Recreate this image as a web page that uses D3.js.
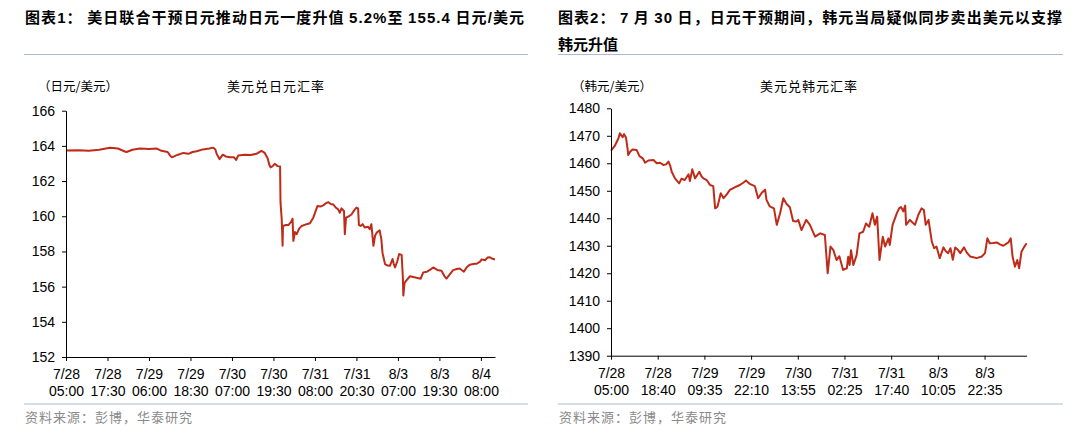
<!DOCTYPE html>
<html>
<head>
<meta charset="utf-8">
<script src="https://cdn.jsdelivr.net/npm/d3@7"></script>
<style>
  html, body { margin: 0; padding: 0; background: #fff; }
  svg { display: block; }
  .cjk { font-family: "Noto Sans CJK SC", sans-serif; }
  .tick text { font-family: "Liberation Sans", Arial, sans-serif; font-size: 14px; fill: #000; }
</style>
</head>
<body>
<div id="chart"></div>
<script>
/*****************************************************
 * 数据 (t = 以刻度间隔为单位的位置, v = 汇率)
 *****************************************************/
const jpyTickLabels = [
  ["7/28", "05:00"], ["7/28", "17:30"], ["7/29", "06:00"], ["7/29", "18:30"],
  ["7/30", "07:00"], ["7/30", "19:30"], ["7/31", "08:00"], ["7/31", "20:30"],
  ["8/3", "07:00"], ["8/3", "19:30"], ["8/4", "08:00"]
];
const jpyYTicks = [152, 154, 156, 158, 160, 162, 164, 166];

// 美元兑日元
const usdjpy = [
  [0,163.74],[0.3,163.75],[0.55,163.72],[0.8,163.78],[1.06,163.9],[1.25,163.85],[1.42,163.68],
  [1.46,163.65],[1.6,163.78],[1.78,163.85],[2.0,163.83],[2.19,163.85],[2.3,163.72],[2.45,163.65],
  [2.51,163.45],[2.55,163.35],[2.7,163.5],[2.83,163.6],[2.95,163.55],[3.05,163.65],[3.15,163.7],
  [3.3,163.8],[3.45,163.85],[3.55,163.9],[3.6,163.8],[3.63,163.55],[3.7,163.25],[3.78,163.5],
  [3.85,163.4],[3.95,163.35],[4.05,163.35],[4.1,163.2],[4.15,163.45],[4.3,163.5],[4.45,163.48],
  [4.59,163.55],[4.71,163.72],[4.79,163.6],[4.86,163.3],[4.9,162.93],[4.93,162.78],[4.98,162.85],
  [5.03,162.98],[5.1,162.85],[5.16,162.83],[5.17,160.8],[5.2,159.8],[5.22,158.32],[5.23,159.45],
  [5.3,159.5],[5.36,159.5],[5.43,159.7],[5.46,159.86],[5.48,158.6],[5.52,159.1],[5.56,158.98],
  [5.62,159.3],[5.68,159.45],[5.8,159.55],[5.88,159.6],[5.96,159.92],[6.06,160.58],[6.13,160.55],
  [6.2,160.62],[6.27,160.75],[6.32,160.8],[6.38,160.7],[6.44,160.67],[6.5,160.5],[6.56,160.39],
  [6.6,160.2],[6.64,160.45],[6.7,160.3],[6.72,158.98],[6.75,159.92],[6.82,160.0],[6.88,160.1],
  [6.95,160.35],[7.0,160.49],[7.04,160.45],[7.06,159.5],[7.1,159.45],[7.15,159.55],[7.2,159.36],
  [7.28,159.4],[7.32,159.26],[7.36,159.55],[7.41,158.32],[7.45,158.9],[7.49,159.07],[7.56,159.2],
  [7.6,158.7],[7.63,157.9],[7.69,157.28],[7.75,157.2],[7.81,157.19],[7.87,157.57],[7.9,157.3],
  [7.93,157.09],[7.98,157.4],[8.03,157.85],[8.09,157.8],[8.12,156.5],[8.13,155.49],[8.16,156.2],
  [8.2,156.34],[8.29,156.59],[8.37,156.55],[8.45,156.5],[8.55,156.45],[8.61,156.81],[8.7,156.85],
  [8.8,157.0],[8.85,157.09],[8.95,156.95],[9.05,156.9],[9.12,156.6],[9.17,156.46],[9.25,156.7],
  [9.33,156.94],[9.42,157.0],[9.49,157.03],[9.59,156.85],[9.66,157.1],[9.73,157.24],[9.85,157.3],
  [9.9,157.3],[9.98,157.42],[10.02,157.55],[10.1,157.5],[10.16,157.65],[10.22,157.67],
  [10.28,157.58],[10.34,157.54]
];

const krwTickLabels = [
  ["7/28", "05:00"], ["7/28", "18:40"], ["7/29", "09:35"], ["7/29", "22:10"],
  ["7/30", "13:55"], ["7/31", "02:25"], ["7/31", "17:40"], ["8/3", "10:05"], ["8/3", "22:35"]
];
const krwYTicks = [1390, 1400, 1410, 1420, 1430, 1440, 1450, 1460, 1470, 1480];

// 美元兑韩元
const usdkrw = [
  [0,1464.6],[0.08,1466.3],[0.16,1469.1],[0.19,1470.9],[0.25,1469.5],[0.28,1470.6],[0.32,1469.4],
  [0.35,1466],[0.37,1463.0],[0.41,1464.2],[0.46,1465],[0.55,1464.8],[0.61,1462.6],[0.68,1461.8],
  [0.73,1460.2],[0.8,1461.0],[0.91,1461.2],[0.98,1460],[1.05,1460.2],[1.12,1459.4],[1.18,1459.6],
  [1.23,1460.6],[1.27,1459],[1.30,1456.9],[1.37,1454.5],[1.46,1452.7],[1.51,1454.4],[1.58,1453.9],
  [1.66,1456],[1.69,1453.5],[1.74,1457.8],[1.80,1454.5],[1.85,1455.8],[1.89,1456.9],[1.94,1455.2],
  [1.98,1454.5],[2.05,1453.9],[2.12,1452.1],[2.19,1451.7],[2.23,1443.6],[2.28,1444.2],[2.35,1449.1],
  [2.41,1447.3],[2.48,1448.7],[2.55,1450.4],[2.6,1450.8],[2.66,1451.3],[2.76,1452.1],[2.84,1453.0],
  [2.89,1453.7],[2.98,1452.4],[3.08,1451.7],[3.15,1447.3],[3.23,1449.3],[3.30,1450.4],[3.33,1446.7],
  [3.40,1444.3],[3.49,1443.6],[3.55,1437.6],[3.62,1441.7],[3.69,1447.3],[3.76,1445.2],[3.83,1444.0],
  [3.90,1439],[3.97,1438.8],[4.01,1439.4],[4.08,1435.7],[4.18,1439.4],[4.26,1437.6],[4.37,1433.3],
  [4.48,1434.5],[4.58,1433.9],[4.64,1420.0],[4.70,1429.7],[4.76,1428.5],[4.83,1424.8],[4.89,1426.2],
  [4.97,1421.2],[5.05,1421.8],[5.08,1426.0],[5.11,1423],[5.14,1428.4],[5.19,1423],[5.26,1426.6],
  [5.32,1434.5],[5.40,1435.1],[5.46,1438.1],[5.53,1436.9],[5.60,1441.8],[5.65,1437.6],[5.70,1440.6],
  [5.75,1424.8],[5.82,1433.3],[5.87,1429.7],[5.94,1432.7],[5.97,1430.3],[6.03,1437.6],[6.12,1441.8],
  [6.17,1443.6],[6.21,1444.1],[6.26,1442.5],[6.30,1444.6],[6.32,1437.6],[6.40,1439.4],[6.51,1437.6],
  [6.58,1441.2],[6.65,1443.6],[6.70,1443.0],[6.74,1437.6],[6.80,1439.4],[6.87,1431.5],[6.92,1429.1],
  [6.97,1429.7],[7.04,1425.5],[7.12,1429.4],[7.17,1428],[7.22,1427.3],[7.27,1429.1],[7.32,1424.9],
  [7.37,1429.4],[7.43,1428.5],[7.48,1427.3],[7.56,1429.4],[7.62,1427.5],[7.69,1426.1],[7.76,1425.8],
  [7.83,1425.5],[7.94,1426.1],[8.01,1427.3],[8.06,1432.7],[8.11,1430.9],[8.18,1431.0],[8.26,1431.2],
  [8.33,1430.5],[8.40,1430.0],[8.51,1431.2],[8.56,1432.7],[8.60,1426.0],[8.65,1422.4],[8.70,1424.8],
  [8.74,1421.8],[8.79,1427.8],[8.85,1429.6],[8.90,1430.9]
];

/*****************************************************
 * 绘图
 *****************************************************/
const W = 1080, H = 437;
const LINE_COLOR = "#bf2b19";
const RULE_COLOR = "#a9bbd2";

const svg = d3.select("#chart").append("svg")
  .attr("width", W).attr("height", H);

function addTitle(x, lines, widths) {
  lines.forEach((ln, i) => {
    const t = svg.append("text")
      .attr("class", "cjk")
      .attr("x", x).attr("y", 23 + i * 27)
      .attr("font-size", 15).attr("font-weight", "bold").attr("fill", "#000");
    ln.forEach(part => {
      t.append("tspan")
        .attr("font-family", part.latin ? "Liberation Sans, Arial, sans-serif" : null)
        .text(part.s);
    });
    if (widths[i]) t.attr("textLength", widths[i]).attr("lengthAdjust", "spacing");
  });
}

function drawPanel(p) {
  const x = d3.scaleLinear().domain([0, p.xMax]).range([p.x0, p.x1]);
  const y = d3.scaleLinear().domain(p.yDomain).range([p.y0, p.y1]);

  // 分隔线
  svg.append("line").attr("x1", p.ruleX0).attr("x2", p.ruleX1)
    .attr("y1", 54.5).attr("y2", 54.5).attr("stroke", RULE_COLOR).attr("stroke-width", 1.2);
  svg.append("line").attr("x1", p.ruleX0).attr("x2", p.ruleX1)
    .attr("y1", 404).attr("y2", 404).attr("stroke", RULE_COLOR).attr("stroke-width", 1.2);

  // 单位 & 系列名
  svg.append("text").attr("class", "cjk")
    .attr("x", p.unitX).attr("y", 91).attr("font-size", 12.5).attr("fill", "#000")
    .text(p.unit);
  svg.append("text").attr("class", "cjk")
    .attr("x", p.nameX).attr("y", 91).attr("font-size", 13).attr("fill", "#000")
    .attr("letter-spacing", 1)
    .text(p.name);

  // 来源
  svg.append("text").attr("class", "cjk")
    .attr("x", p.ruleX0 + 1).attr("y", 422).attr("font-size", 13).attr("fill", "#8a8a8a")
    .attr("letter-spacing", 1)
    .text("资料来源：彭博，华泰研究");

  // 曲线
  const line = d3.line().x(d => x(d[0])).y(d => y(d[1]));
  svg.append("path").datum(p.data)
    .attr("d", line)
    .attr("fill", "none")
    .attr("stroke", LINE_COLOR)
    .attr("stroke-width", 2)
    .attr("stroke-linejoin", "round");

  // Y轴
  const yAxis = d3.axisLeft(y).tickValues(p.yTicks).tickFormat(d3.format("d"))
    .tickSize(4).tickSizeOuter(0).tickPadding(7);
  const gy = svg.append("g").attr("transform", `translate(${p.x0},0)`).call(yAxis);
  gy.selectAll("path, line").attr("stroke", "#000");

  // X轴 (两行标签)
  const xAxis = d3.axisBottom(x).tickValues(d3.range(p.xLabels.length))
    .tickSize(4).tickSizeOuter(0).tickFormat("");
  const gx = svg.append("g").attr("transform", `translate(0,${p.y0})`).call(xAxis);
  gx.selectAll("path, line").attr("stroke", "#000");
  gx.selectAll(".tick").each(function (d) {
    const t = d3.select(this).select("text").attr("y", 0).attr("dy", null);
    t.append("tspan").attr("x", 0).attr("y", 22).text(p.xLabels[d][0]);
    t.append("tspan").attr("x", 0).attr("y", 39).text(p.xLabels[d][1]);
  });
}

addTitle(25, [[
  { s: "图表" }, { s: "1", latin: true }, { s: "：  美日联合干预日元推动日元一度升值 " },
  { s: "5.2%", latin: true }, { s: "至 " }, { s: "155.4", latin: true }, { s: " 日元" },
  { s: "/", latin: true }, { s: "美元" }
]], [499]);

addTitle(558, [[
  { s: "图表" }, { s: "2", latin: true }, { s: "：  " }, { s: "7", latin: true }, { s: " 月 " },
  { s: "30", latin: true }, { s: " 日，日元干预期间，韩元当局疑似同步卖出美元以支撑" }
], [{ s: "韩元升值" }]], [504, 0]);

drawPanel({
  data: usdjpy, xLabels: jpyTickLabels, yTicks: jpyYTicks,
  xMax: 10.34, x0: 66, x1: 495, yDomain: [152, 166], y0: 357, y1: 110.7,
  ruleX0: 24, ruleX1: 528, unitX: 38, nameX: 227,
  unit: "（日元/美元）", name: "美元兑日元汇率"
});

drawPanel({
  data: usdkrw, xLabels: krwTickLabels, yTicks: krwYTicks,
  xMax: 8.9, x0: 611, x1: 1026.6, yDomain: [1390, 1480], y0: 355.7, y1: 108.3,
  ruleX0: 558, ruleX1: 1063, unitX: 572, nameX: 760,
  unit: "（韩元/美元）", name: "美元兑韩元汇率"
});
</script>
</body>
</html>
